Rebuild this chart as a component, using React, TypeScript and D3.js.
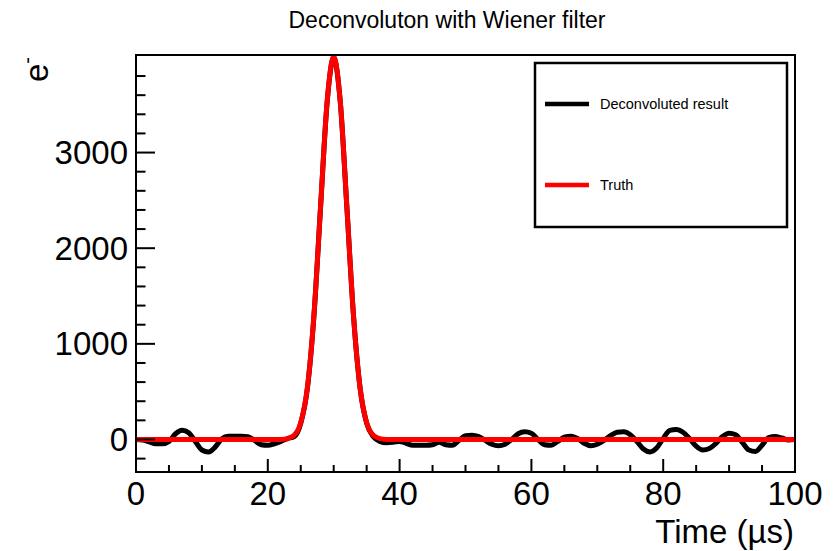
import React from "react";
import * as d3 from "d3";

const title = "Deconvoluton with Wiener filter";
const xTitle = "Time (\u00b5s)";
const legendLabels = ["Deconvoluted result", "Truth"];
const seriesColors = ["#000000", "#ff0000"];

const xTickValues = [0, 20, 40, 60, 80, 100];
const yTickValues = [0, 1000, 2000, 3000];

// Deconvoluted result, sampled at t = 0..100 µs
const deconvTimes = [
  0, 1, 2, 3, 4, 5, 6, 7, 8, 9, 10, 11, 12, 13, 14, 15, 16, 17, 18, 19, 20,
  21, 22, 23, 24, 25, 26, 27, 28, 29, 30, 31, 32, 33, 34, 35, 36, 37, 38, 39, 40,
  41, 42, 43, 44, 45, 46, 47, 48, 49, 50, 51, 52, 53, 54, 55, 56, 57, 58, 59, 60,
  61, 62, 63, 64, 65, 66, 67, 68, 69, 70, 71, 72, 73, 74, 75, 76, 77, 78, 79, 80,
  81, 82, 83, 84, 85, 86, 87, 88, 89, 90, 91, 92, 93, 94, 95, 96, 97, 98, 99, 100,
];
const deconvValues = [
  0, -5, -25, -45, -45, -20, 60, 97, 70, -20, -110,
  -130, -80, 5, 35, 35, 35, 30, -10, -55, -60,
  -45, -20, 10, 30, 170, 530, 1290, 2420, 3520, 3990,
  3530, 2430, 1300, 540, 170, 30, -20, -35, -30, -20,
  -40, -60, -60, -60, -55, -30, -55, -60, -10, 40,
  45, 30, -10, -50, -65, -50, 0, 60, 80, 65,
  0, -55, -60, -20, 25, 35, 10, -40, -65, -50,
  -10, 40, 75, 80, 50, -20, -100, -130, -90, 10,
  95, 105, 75, 10, -70, -110, -95, -40, 30, 65,
  50, -30, -110, -125, -60, 20, 30, 15, -5, 0,
];

// Truth pulse
const truthTimes = [0, 21, 22, 23, 24, 25, 26, 27, 28, 29, 30, 31, 32, 33, 34, 35, 36, 37, 38, 39, 100];
const truthValues = [0, 0, 1, 9, 44, 176, 541, 1298, 2426, 3530, 4000, 3530, 2426, 1298, 541, 176, 44, 9, 1, 0, 0];

const W = 836;
const H = 551;
const left = 136;
const right = 795;
const top = 55;
const bottom = 472;
const FONT = "'Liberation Sans', Arial, Helvetica, sans-serif";

export default function App() {
  const x = d3.scaleLinear().domain([0, 100]).range([left, right]);
  const y = d3.scaleLinear().domain([-340, 4020]).range([bottom, top]);

  const deconv = deconvTimes.map((t, i) => [t, deconvValues[i]] as [number, number]);
  const truth = truthTimes.map((t, i) => [t, truthValues[i]] as [number, number]);
  const line = d3
    .line<[number, number]>()
    .x((d) => x(d[0]))
    .y((d) => y(d[1]))
    .curve(d3.curveMonotoneX);

  const xMinor = d3.range(0, 101, 5).filter((v) => !xTickValues.includes(v));
  const yMinor = d3
    .range(-200, 4001, 200)
    .filter((v) => !yTickValues.includes(v) && y(v) > top + 4);

  return (
    <svg
      width={W}
      height={H}
      style={{ position: "fixed", left: 0, top: 0, background: "#fff" }}
      fontFamily={FONT}
    >
      <defs>
        <clipPath id="plotClip">
          <rect x={left} y={top} width={right - left} height={bottom - top} />
        </clipPath>
      </defs>
      <rect x={0} y={0} width={W} height={H} fill="#fff" />

      <text x={447} y={28} textAnchor="middle" fontSize={23} fill="#000">
        {title}
      </text>

      <g clipPath="url(#plotClip)">
        <path d={line(deconv) || ""} fill="none" stroke={seriesColors[0]} strokeWidth={5} strokeLinejoin="round" />
        <path d={line(truth) || ""} fill="none" stroke={seriesColors[1]} strokeWidth={5} strokeLinejoin="round" />
      </g>

      {/* ticks */}
      {xTickValues.map((v) => (
        <line key={"xt" + v} x1={x(v)} x2={x(v)} y1={bottom} y2={bottom - 13} stroke="#000" strokeWidth={2} />
      ))}
      {xMinor.map((v) => (
        <line key={"xm" + v} x1={x(v)} x2={x(v)} y1={bottom} y2={bottom - 7} stroke="#000" strokeWidth={2} />
      ))}
      {yTickValues.map((v) => (
        <line key={"yt" + v} x1={left} x2={left + 19} y1={y(v)} y2={y(v)} stroke="#000" strokeWidth={2} />
      ))}
      {yMinor.map((v) => (
        <line key={"ym" + v} x1={left} x2={left + 9.5} y1={y(v)} y2={y(v)} stroke="#000" strokeWidth={2} />
      ))}

      <rect x={left} y={top} width={right - left} height={bottom - top} fill="none" stroke="#000" strokeWidth={2} />

      {xTickValues.map((v) => (
        <text key={"xl" + v} x={x(v)} y={505} textAnchor="middle" fontSize={33} fill="#000">
          {v}
        </text>
      ))}
      {yTickValues.map((v) => (
        <text key={"yl" + v} x={128} y={y(v) + 11.5} textAnchor="end" fontSize={33} fill="#000">
          {v}
        </text>
      ))}

      <text x={794} y={543} textAnchor="end" fontSize={33} fill="#000">
        {xTitle}
      </text>

      <text transform={`translate(48,57) rotate(-90)`} textAnchor="end" fontSize={33} fill="#000">
        <tspan>e</tspan>
        <tspan fontSize={20} dy={-14}>-</tspan>
      </text>

      {/* legend */}
      <rect x={535} y={63} width={252} height={164} fill="#fff" stroke="#000" strokeWidth={2.5} />
      {legendLabels.map((lab, i) => {
        const ly = i === 0 ? 104 : 185;
        return (
          <g key={lab}>
            <line x1={545} x2={589} y1={ly} y2={ly} stroke={seriesColors[i]} strokeWidth={4.5} />
            <text x={600} y={ly + 5} fontSize={14.5} fill="#000">
              {lab}
            </text>
          </g>
        );
      })}
    </svg>
  );
}
